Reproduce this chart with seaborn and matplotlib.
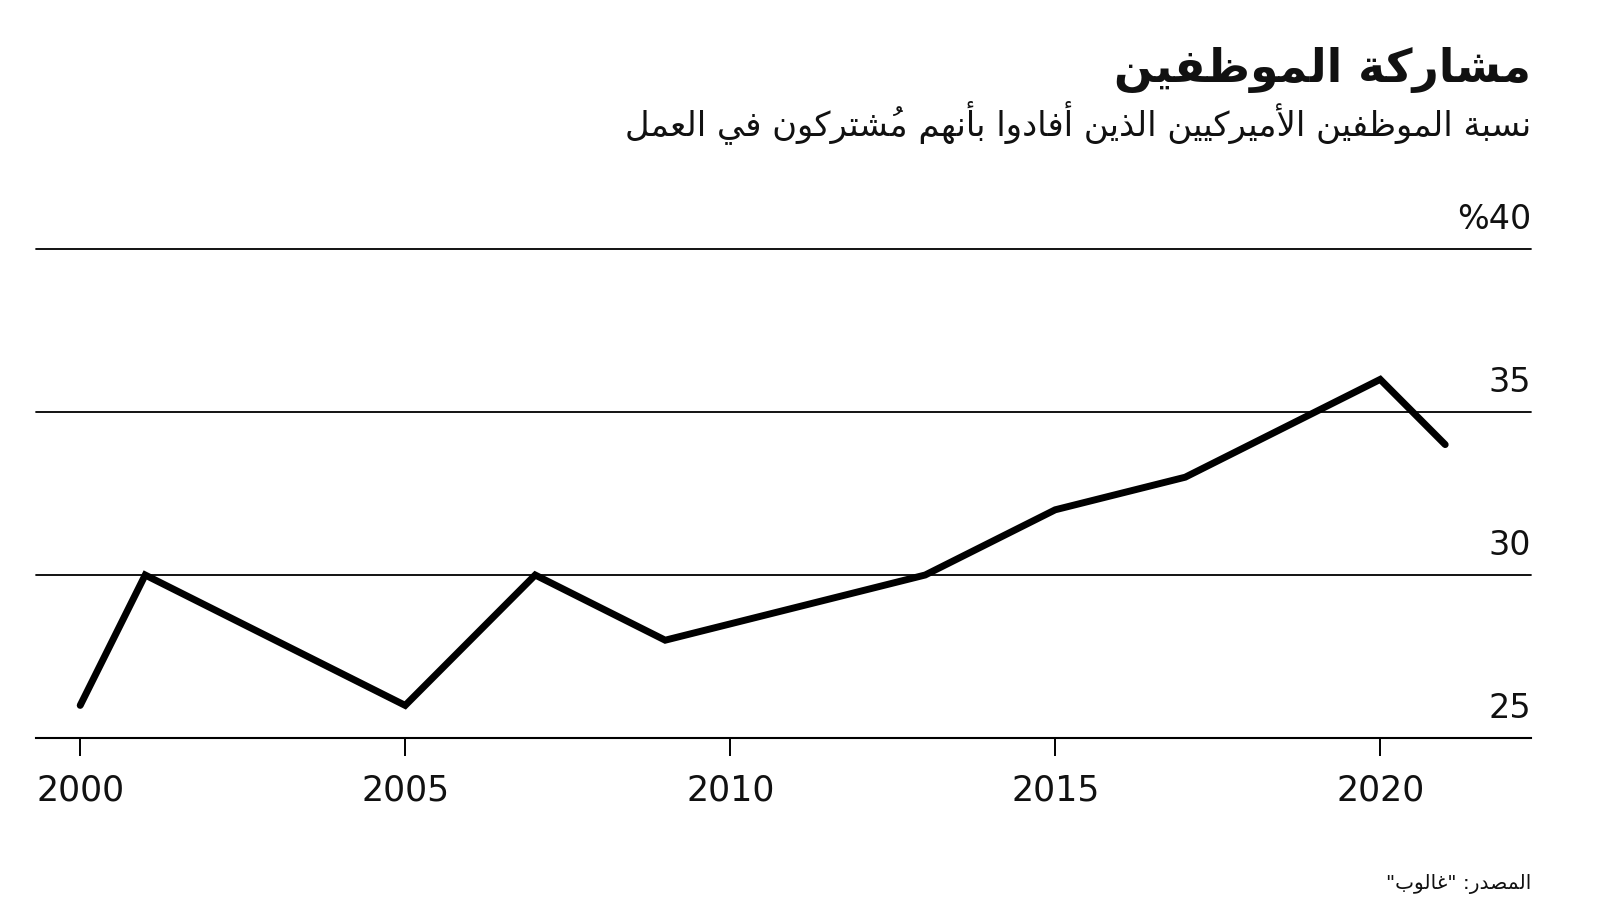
import numpy as np
import pandas as pd
import matplotlib
matplotlib.use("Agg")
import matplotlib.pyplot as plt
import seaborn as sns

# ---------------- data ----------------
years = [2000, 2001, 2005, 2007, 2009, 2013, 2015, 2017, 2020, 2021]
engaged = [26, 30, 26, 30, 28, 30, 32, 33, 36, 34]
x_ticks = [2000, 2005, 2010, 2015, 2020]
y_ticks = [25, 30, 35, 40]
y_tick_labels = ["25", "30", "35", "%40"]
title = "مشاركة الموظفين"
subtitle = "نسبة الموظفين الأميركيين الذين أفادوا بأنهم مُشتركون في العمل"
source = 'المصدر: "غالوب"'

# ---------------- minimal Arabic shaping (matplotlib has no shaper) ----------------
_seq = [("ء", 1), ("آ", 2), ("أ", 2), ("ؤ", 2), ("إ", 2), ("ئ", 4), ("ا", 2), ("ب", 4),
        ("ة", 2), ("ت", 4), ("ث", 4), ("ج", 4), ("ح", 4), ("خ", 4), ("د", 2), ("ذ", 2),
        ("ر", 2), ("ز", 2), ("س", 4), ("ش", 4), ("ص", 4), ("ض", 4), ("ط", 4), ("ظ", 4),
        ("ع", 4), ("غ", 4), ("ف", 4), ("ق", 4), ("ك", 4), ("ل", 4), ("م", 4), ("ن", 4),
        ("ه", 4), ("و", 2), ("ى", 2), ("ي", 4)]
FORMS = {}
_c = 0xFE80
for ch, n in _seq:
    FORMS[ch] = (_c, n)
    _c += n
LAMALEF = {"آ": 0xFEF5, "أ": 0xFEF7, "إ": 0xFEF9, "ا": 0xFEFB}


def _is_mark(ch):
    return 0x064B <= ord(ch) <= 0x0652


def shape(text):
    units = []  # [key, marks]
    i = 0
    while i < len(text):
        ch = text[i]
        if _is_mark(ch) and units:
            units[-1][1] += ch
            i += 1
            continue
        if ch == "ل":
            j = i + 1
            marks = ""
            while j < len(text) and _is_mark(text[j]):
                marks += text[j]
                j += 1
            if j < len(text) and text[j] in LAMALEF:
                units.append([("LA", text[j]), marks])
                i = j + 1
                continue
        units.append([ch, ""])
        i += 1

    def jtype(u):
        k = u[0]
        if isinstance(k, tuple):
            return "R"
        if k in FORMS:
            n = FORMS[k][1]
            return "D" if n == 4 else ("R" if n == 2 else "U")
        return "U"

    out = []
    for idx, u in enumerate(units):
        t = jtype(u)
        prev_j = idx > 0 and jtype(units[idx - 1]) == "D"
        next_j = idx < len(units) - 1 and jtype(units[idx + 1]) in ("D", "R")
        k = u[0]
        if isinstance(k, tuple):
            g = chr(LAMALEF[k[1]] + (1 if prev_j else 0))
        elif t == "D":
            base = FORMS[k][0]
            if prev_j and next_j:
                g = chr(base + 3)
            elif next_j:
                g = chr(base + 2)
            elif prev_j:
                g = chr(base + 1)
            else:
                g = chr(base)
        elif t == "R":
            g = chr(FORMS[k][0] + (1 if prev_j else 0))
        elif k in FORMS:
            g = chr(FORMS[k][0])
        else:
            g = k
        # marks placed before the base in visual order so they sit over it
        out.append(g + u[1][::-1])
    return "".join(reversed(out))[::-1][::-1] if False else "".join(
        (o[1:] + o[0]) if len(o) > 1 else o for o in reversed(out))[::-1][::-1]


# ---------------- figure ----------------
sns.set_theme(style="white")
plt.rcParams["font.family"] = ["DejaVu Sans"]
plt.rcParams["text.color"] = "#111111"

W, H = 1600, 912
fig = plt.figure(figsize=(W / 100, H / 100), dpi=100)
fig.patch.set_facecolor("white")

ax_left, ax_right, ax_top, ax_bot = 36, 1531, 250, 739
ax = fig.add_axes([ax_left / W, 1 - ax_bot / H, (ax_right - ax_left) / W, (ax_bot - ax_top) / H])
ax.set_facecolor("white")

df = pd.DataFrame({"year": years, "value": engaged})
sns.lineplot(data=df, x="year", y="value", ax=ax, color="black", linewidth=5.0, zorder=3)
for ln in ax.lines:
    ln.set_solid_capstyle("round")
    ln.set_solid_joinstyle("miter")

ax.set_xlim(1999.32, 2022.32)
ax.set_ylim(25, 40)

for v in y_ticks[1:]:
    ax.axhline(v, color="black", lw=1.3, zorder=1, clip_on=False)

for s in ["left", "right", "top"]:
    ax.spines[s].set_visible(False)
ax.spines["bottom"].set_color("black")
ax.spines["bottom"].set_linewidth(1.5)

ax.set_xticks(x_ticks)
ax.set_xticklabels([str(x) for x in x_ticks], fontsize=25, color="#111111")
ax.tick_params(axis="x", bottom=True, length=13, width=1.4, color="black", pad=12)
ax.set_yticks([])
ax.set_xlabel("")
ax.set_ylabel("")

for v, lab in zip(y_ticks, y_tick_labels):
    ax.annotate(lab, xy=(1, v), xycoords=("axes fraction", "data"), xytext=(0, 21),
                textcoords="offset pixels", ha="right", va="baseline", fontsize=24,
                color="#111111", annotation_clip=False)

# ---------------- titles ----------------
t_title = fig.text(ax_right / W, 1 - 82 / H, shape(title), ha="right", va="baseline",
                   fontsize=30, fontweight="bold", color="#111111")
t_sub = fig.text(ax_right / W, 1 - 135 / H, shape(subtitle), ha="right", va="baseline",
                 fontsize=22, color="#111111")
t_src = fig.text(ax_right / W, 1 - 889 / H, shape(source), ha="right", va="baseline",
                 fontsize=13, color="#111111")


def fit_width(t, target):
    fig.canvas.draw()
    r = fig.canvas.get_renderer()
    w = t.get_window_extent(r).width
    t.set_fontsize(t.get_fontsize() * target / w)


fit_width(t_title, 415)
fit_width(t_sub, 910)
fit_width(t_src, 145)

fig.savefig("out.png", dpi=100, facecolor="white")
